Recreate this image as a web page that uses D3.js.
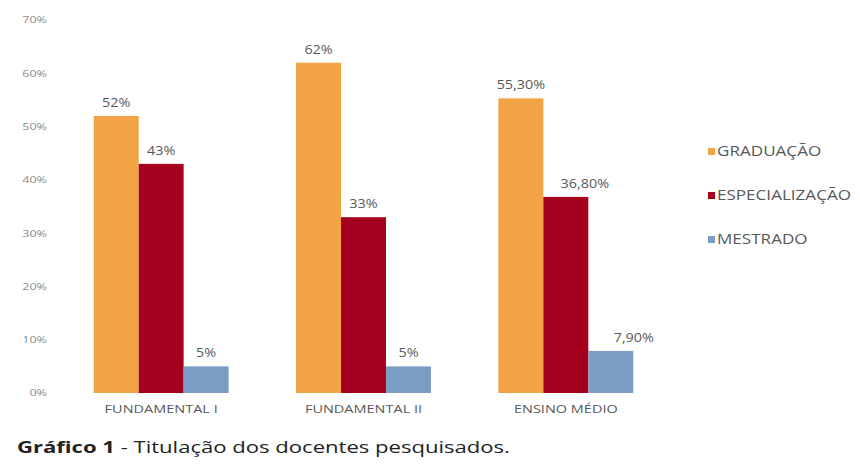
<!DOCTYPE html>
<html>
<head>
<meta charset="utf-8">
<script src="https://cdn.jsdelivr.net/npm/d3@7"></script>
<style>
	body { margin: 0; background: #fff; }
	text { font-family: "Open Sans", sans-serif; }
</style>
</head>
<body>
<div id="chart"></div>
<script>
// data
var categories = ["FUNDAMENTAL I", "FUNDAMENTAL II", "ENSINO MÉDIO"];
var series = ["GRADUAÇÃO", "ESPECIALIZAÇÃO", "MESTRADO"];
var graduacao = [52, 62, 55.3];
var especializacao = [43, 33, 36.8];
var mestrado = [5, 5, 7.9];
var valueLabels = [
	["52%", "62%", "55,30%"],
	["43%", "33%", "36,80%"],
	["5%", "5%", "7,90%"]
];
var yTicks = [0, 10, 20, 30, 40, 50, 60, 70];
var colors = ["#F2A344", "#A6001F", "#7B9CC5"];

(function() {
	var width = 860,
		height = 464;

	var svg = d3.select("#chart")
		.append("svg")
		.attr("width", width)
		.attr("height", height);

	var values = [graduacao, especializacao, mestrado];

	// the original picture is stretched sideways, so text gets a wider scale
	function stretch(sx) {
		return "scale(" + sx + ",1)";
	}

	// a couple of labels were dragged off-centre in the original
	var labelNudge = { "36,80%": 19, "7,90%": 23 };

	var x0 = d3.scaleBand()
		.domain(categories)
		.range([60, 667])
		.paddingInner(1 / 3)
		.paddingOuter(1 / 6);

	var x1 = d3.scaleBand()
		.domain(series)
		.range([0, x0.bandwidth()]);

	var y = d3.scaleLinear()
		.domain([0, 70])
		.range([393, 20]);

	var color = d3.scaleOrdinal()
		.domain(series)
		.range(colors);

	// y axis, labels only
	var yAxis = d3.axisLeft(y)
		.tickValues(yTicks)
		.tickSize(0)
		.tickPadding(0)
		.tickFormat(function(d) { return d + "%"; });

	var gy = svg.append("g")
		.attr("transform", "translate(47,0)")
		.call(yAxis);
	gy.select(".domain").remove();
	gy.selectAll("text")
		.attr("x", 0)
		.attr("transform", stretch(1.4))
		.style("font-size", "9px")
		.style("fill", "#8c8c8c");

	// x axis, labels only
	var xAxis = d3.axisBottom(x0)
		.tickSize(0)
		.tickPadding(0);

	var gx = svg.append("g")
		.attr("transform", "translate(0,405)")
		.call(xAxis);
	gx.select(".domain").remove();
	gx.selectAll("text")
		.attr("transform", stretch(1.26))
		.style("font-size", "11.5px")
		.style("fill", "#595959");

	// bars
	var rows = [];
	series.forEach(function(s, i) {
		categories.forEach(function(c, j) {
			rows.push({ series: s, category: c, value: values[i][j], label: valueLabels[i][j] });
		});
	});

	svg.selectAll(".bar")
		.data(rows)
		.enter().append("rect")
		.attr("class", "bar")
		.attr("x", function(d) { return x0(d.category) + x1(d.series); })
		.attr("width", x1.bandwidth())
		.attr("y", function(d) { return y(d.value); })
		.attr("height", function(d) { return y(0) - y(d.value); })
		.style("fill", function(d) { return color(d.series); });

	svg.selectAll(".value")
		.data(rows)
		.enter().append("text")
		.attr("class", "value")
		.attr("transform", function(d) {
			var cx = x0(d.category) + x1(d.series) + x1.bandwidth() / 2 + (labelNudge[d.label] || 0);
			return "translate(" + cx + "," + (y(d.value) - 9) + ")" + stretch(1.15);
		})
		.attr("text-anchor", "middle")
		.style("font-size", "12.5px")
		.style("fill", "#595959")
		.text(function(d) { return d.label; });

	// legend
	var legend = svg.selectAll(".legend")
		.data(series)
		.enter().append("g")
		.attr("class", "legend")
		.attr("transform", function(d, i) { return "translate(708," + (151 + i * 44) + ")"; });

	legend.append("rect")
		.attr("x", 0)
		.attr("y", -3)
		.attr("width", 7)
		.attr("height", 7)
		.style("fill", function(d) { return color(d); });

	legend.append("text")
		.attr("transform", "translate(9,0)" + stretch(1.22))
		.attr("dy", "0.38em")
		.style("font-size", "14px")
		.style("fill", "#595959")
		.text(function(d) { return d; });

	// caption
	var caption = svg.append("text")
		.attr("transform", "translate(17,453)" + stretch(1.38))
		.style("font-size", "16px")
		.style("fill", "#222");
	caption.append("tspan")
		.style("font-weight", "bold")
		.text("Gráfico 1");
	caption.append("tspan")
		.text(" - Titulação dos docentes pesquisados.");
})();
</script>
</body>
</html>
